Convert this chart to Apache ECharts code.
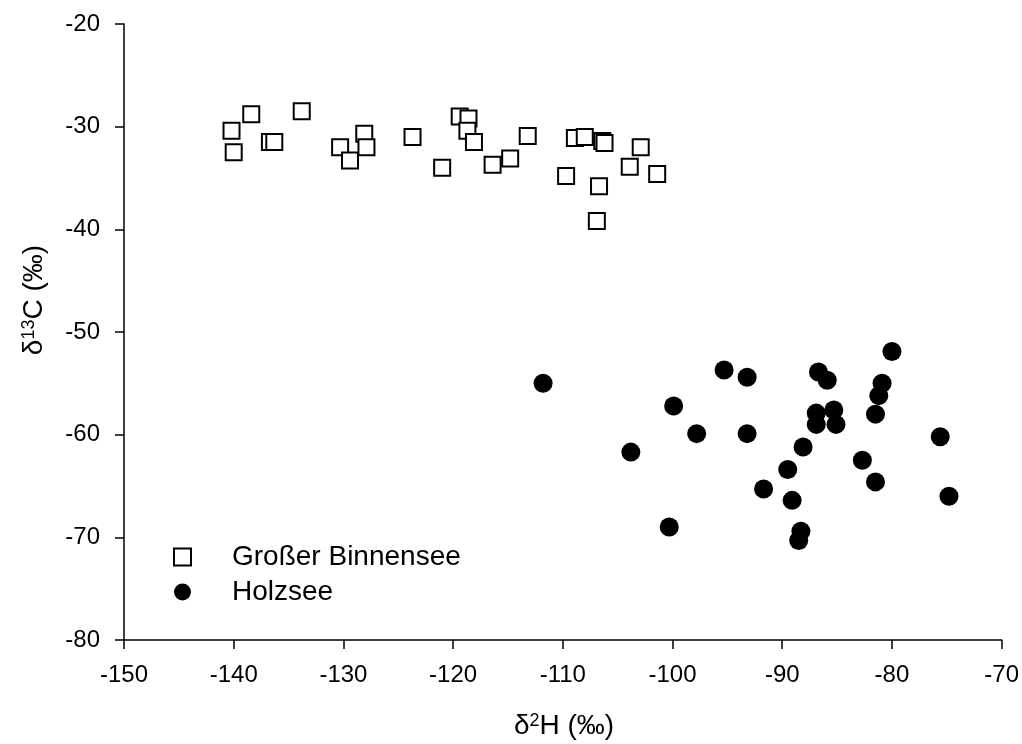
<!DOCTYPE html>
<html>
<head>
<meta charset="utf-8">
<script src="https://cdn.jsdelivr.net/npm/echarts@6/dist/echarts.min.js"></script>
<style>
html,body{margin:0;padding:0;background:#fff;}
#chart{width:1022px;height:744px;}
</style>
</head>
<body>
<div id="chart"></div>
<script>
// Data: [δ2H, δ13C]
var seriesNames = ['Großer Binnensee', 'Holzsee'];
var xTicks = [-150, -140, -130, -120, -110, -100, -90, -80, -70];
var yTicks = [-80, -70, -60, -50, -40, -30, -20];

var binnenseeH = [-138.4, -140.2, -140.0, -136.7, -136.3, -133.8, -128.1, -130.3, -127.9, -129.4,
  -123.7, -119.4, -118.6, -118.7, -118.1, -121.0, -116.4, -114.8, -113.2, -108.9,
  -108.0, -106.4, -106.2, -102.9, -103.9, -101.4, -109.7, -106.7, -106.9];
var binnenseeC = [-28.8, -30.4, -32.5, -31.5, -31.5, -28.5, -30.7, -32.0, -32.0, -33.3,
  -31.0, -29.0, -29.2, -30.4, -31.5, -34.0, -33.7, -33.1, -30.9, -31.1,
  -31.0, -31.4, -31.6, -32.0, -33.9, -34.6, -34.8, -35.8, -39.2];

var holzseeH = [-111.8, -95.3, -93.2, -99.9, -97.8, -93.2, -103.8, -91.7, -100.3, -80.0,
  -86.7, -85.9, -80.9, -81.2, -81.5, -86.9, -85.3, -86.9, -85.1, -88.1,
  -75.6, -89.5, -82.7, -81.5, -89.1, -74.8, -88.3, -88.5];
var holzseeC = [-55.0, -53.7, -54.4, -57.2, -59.9, -59.9, -61.7, -65.3, -69.0, -51.9,
  -53.9, -54.7, -55.0, -56.2, -58.0, -57.9, -57.6, -59.0, -59.0, -61.2,
  -60.2, -63.4, -62.5, -64.6, -66.4, -66.0, -69.4, -70.3];

function zip(a, b) { return a.map(function (v, i) { return [v, b[i]]; }); }

var FONT = "'Liberation Sans', Arial, sans-serif";
var chart = echarts.init(document.getElementById('chart'), null, {renderer: 'canvas'});

var axisCommon = {
  axisLine: {show: true, onZero: false, lineStyle: {color: '#000', width: 1.5}},
  axisTick: {show: true, inside: false, length: 9, lineStyle: {color: '#000', width: 1.5}},
  splitLine: {show: false},
  axisLabel: {color: '#000', fontSize: 24, fontFamily: FONT}
};

chart.setOption({
  animation: false,
  backgroundColor: '#fff',
  grid: {left: 124, right: 20, top: 24, bottom: 104, containLabel: false},
  xAxis: Object.assign({}, axisCommon, {
    type: 'value', min: xTicks[0], max: xTicks[xTicks.length - 1], interval: 10,
    axisLabel: Object.assign({}, axisCommon.axisLabel, {margin: 23})
  }),
  yAxis: Object.assign({}, axisCommon, {
    type: 'value', min: yTicks[0], max: yTicks[yTicks.length - 1], interval: 10,
    axisLabel: Object.assign({}, axisCommon.axisLabel, {margin: 24})
  }),
  legend: {
    orient: 'vertical',
    left: 173,
    top: 543,
    padding: 0,
    itemWidth: 17,
    itemHeight: 17,
    itemGap: 7,
    selectedMode: false,
    data: [
      {name: seriesNames[0], icon: 'rect'},
      {name: seriesNames[1], icon: 'circle'}
    ],
    textStyle: {color: '#000', fontSize: 28, fontFamily: FONT, lineHeight: 28, padding: [0, 0, 0, 36]}
  },
  graphic: [
    {
      type: 'text', x: 564, y: 726,
      style: {
        text: '{d|δ}{s|2}{d|H (‰)}', align: 'center', verticalAlign: 'middle',
        rich: {
          d: {fontSize: 28, fontFamily: FONT, fill: '#000', color: '#000'},
          s: {fontSize: 18, fontFamily: FONT, fill: '#000', color: '#000', verticalAlign: 'top'}
        }
      }
    },
    {
      type: 'text', x: 34, y: 300, rotation: Math.PI / 2,
      style: {
        text: '{d|δ}{s|13}{d|C (‰)}', align: 'center', verticalAlign: 'middle',
        rich: {
          d: {fontSize: 28, fontFamily: FONT, fill: '#000', color: '#000'},
          s: {fontSize: 18, fontFamily: FONT, fill: '#000', color: '#000', verticalAlign: 'top'}
        }
      }
    }
  ],
  series: [
    {
      name: seriesNames[0], type: 'scatter', symbol: 'rect', symbolSize: 16,
      itemStyle: {color: '#fff', borderColor: '#000', borderWidth: 2, opacity: 1},
      data: zip(binnenseeH, binnenseeC)
    },
    {
      name: seriesNames[1], type: 'scatter', symbol: 'circle', symbolSize: 19,
      itemStyle: {color: '#000', opacity: 1},
      data: zip(holzseeH, holzseeC)
    }
  ]
});
</script>
</body>
</html>
